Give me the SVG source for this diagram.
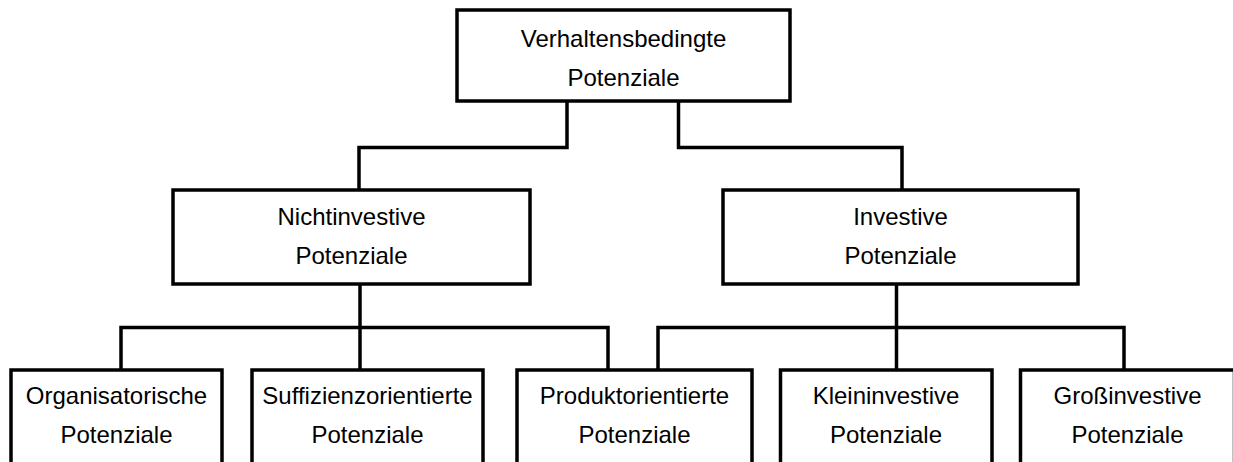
<svg xmlns="http://www.w3.org/2000/svg" width="1233" height="462" viewBox="0 0 1233 462">
<style>
.box{fill:#fff;stroke:#000;stroke-width:3.5}
.con{fill:none;stroke:#000;stroke-width:3.5;stroke-linejoin:miter;stroke-linecap:butt}
text{font-family:"Liberation Sans",Arial,sans-serif;font-size:24px;fill:#000;text-anchor:middle}
</style>
<rect width="1233" height="462" fill="#fff"/>
<g id="connectors">
<path class="con" d="M567 101 V147.5 H359 V190"/>
<path class="con" d="M678.5 101 V147.5 H902 V190"/>
<path class="con" d="M360 284 V370"/>
<path class="con" d="M121 370 V327.5 H608 V370"/>
<path class="con" d="M896.5 284 V370"/>
<path class="con" d="M658 370 V327.5 H1124 V370"/>
</g>
<g id="root">
<rect class="box" x="457" y="10" width="333" height="91"/>
<text x="623.5" y="47">Verhaltensbedingte</text>
<text x="623.5" y="86">Potenziale</text>
</g>
<g id="nichtinvestive">
<rect class="box" x="173" y="190" width="357" height="94"/>
<text x="351.5" y="225">Nichtinvestive</text>
<text x="351.5" y="264">Potenziale</text>
</g>
<g id="investive">
<rect class="box" x="723" y="190" width="355" height="94"/>
<text x="900.5" y="225">Investive</text>
<text x="900.5" y="264">Potenziale</text>
</g>
<g id="organisatorische">
<rect class="box" x="11" y="370" width="211" height="110"/>
<text x="116.5" y="404">Organisatorische</text>
<text x="116.5" y="443">Potenziale</text>
</g>
<g id="suffizienzorientierte">
<rect class="box" x="252" y="370" width="231" height="110"/>
<text x="367.5" y="404">Suffizienzorientierte</text>
<text x="367.5" y="443">Potenziale</text>
</g>
<g id="produktorientierte">
<rect class="box" x="517" y="370" width="235" height="110"/>
<text x="634.5" y="404">Produktorientierte</text>
<text x="634.5" y="443">Potenziale</text>
</g>
<g id="kleininvestive">
<rect class="box" x="780.5" y="370" width="211.5" height="110"/>
<text x="886" y="404">Kleininvestive</text>
<text x="886" y="443">Potenziale</text>
</g>
<g id="grossinvestive">
<rect class="box" x="1020.5" y="370" width="214" height="110"/>
<text x="1127.5" y="404">Großinvestive</text>
<text x="1127.5" y="443">Potenziale</text>
</g>
</svg>
